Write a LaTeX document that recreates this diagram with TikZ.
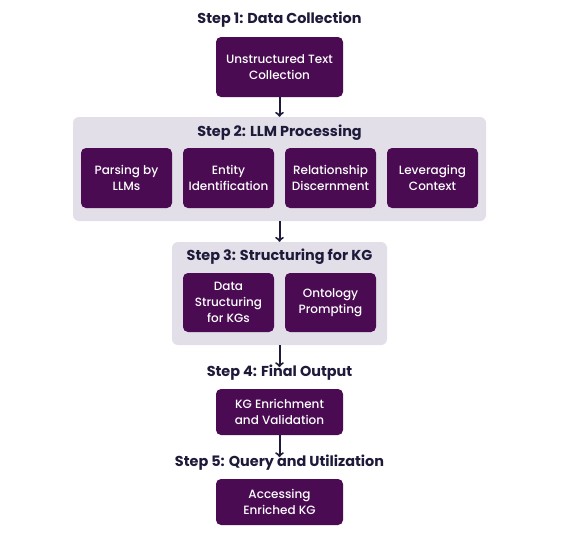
\documentclass[tikz,border=0pt]{standalone}
\usepackage{fontspec}
\setmainfont{Poppins}
\newfontfamily\boxfont{Poppins Medium}
\usetikzlibrary{positioning}
\usetikzlibrary{arrows}
\definecolor{plum}{HTML}{4A0B52}
\definecolor{panel}{HTML}{E2DFE8}
\definecolor{ink}{HTML}{1E1A3A}

\begin{document}
\begin{tikzpicture}[x=1pt,y=-1pt,
     steptitle/.style={text=ink, font=\bfseries\fontsize{14.4}{16}\selectfont, inner sep=0pt},
     task/.style={fill=plum, text=white, rounded corners=5pt, align=center,
                  font=\boxfont\fontsize{12}{16}\selectfont, inner sep=0pt},
     group/.style={fill=panel, rounded corners=6pt, inner sep=0pt},
     flow/.style={-to, draw=ink, line width=2pt}]
     \useasboundingbox[fill=white] (0,0) rectangle (584,550);
     % step 1
     \node[steptitle] (t1) at (279.5,20) {Step 1: Data Collection};
     \node[task, minimum width=127pt, minimum height=60pt] (collect) at (279.5,67) {Unstructured Text\\Collection};
     % step 2
     \node[group, minimum width=413pt, minimum height=104pt] (g2) at (279.5,169) {};
     \node[steptitle] (t2) at (279.5,133) {Step 2: LLM Processing};
     \node[task, minimum width=91pt, minimum height=60pt] (parse) at (126.5,178) {Parsing by\\LLMs};
     \node[task, minimum width=91pt, minimum height=60pt] (entity) at (228.5,178) {Entity\\Identification};
     \node[task, minimum width=91pt, minimum height=60pt] (relation) at (330.5,178) {Relationship\\Discernment};
     \node[task, minimum width=91pt, minimum height=60pt] (context) at (432.5,178) {Leveraging\\Context};
     % step 3
     \node[group, minimum width=215pt, minimum height=103pt] (g3) at (279.5,293.5) {};
     \node[steptitle] (t3) at (279.5,257) {Step 3: Structuring for KG};
     \node[task, minimum width=91pt, minimum height=59pt] (struct) at (228.5,302.5) {Data\\Structuring\\for KGs};
     \node[task, minimum width=91pt, minimum height=59pt] (onto) at (330.5,302.5) {Ontology\\Prompting};
     % step 4
     \node[steptitle] (t4) at (279.5,373) {Step 4: Final Output};
     \node[task, minimum width=127pt, minimum height=46pt] (enrich) at (279.5,412) {KG Enrichment\\and Validation};
     % step 5
     \node[steptitle] (t5) at (279.5,463) {Step 5: Query and Utilization};
     \node[task, minimum width=127pt, minimum height=46pt] (access) at (279.5,502) {Accessing\\Enriched KG};
     % arrows
     \draw[flow] (collect.south) -- (g2.north);
     \draw[flow] (g2.south) -- (g3.north);
     \draw[flow] (g3.south) -- ([yshift=-2pt]t4.north);
     \draw[flow] (enrich.south) -- ([yshift=-2pt]t5.north);
\end{tikzpicture}
\end{document}
